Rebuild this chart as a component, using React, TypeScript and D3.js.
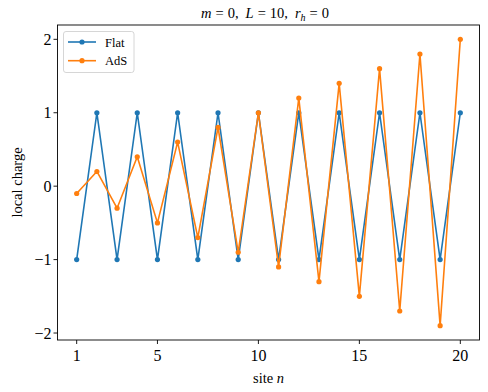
import React from 'react';
import * as d3 from 'd3';

const sites = [1, 2, 3, 4, 5, 6, 7, 8, 9, 10, 11, 12, 13, 14, 15, 16, 17, 18, 19, 20];
const flat = [-1, 1, -1, 1, -1, 1, -1, 1, -1, 1, -1, 1, -1, 1, -1, 1, -1, 1, -1, 1];
const ads = [-0.1, 0.2, -0.3, 0.4, -0.5, 0.6, -0.7, 0.8, -0.9, 1.0, -1.1, 1.2, -1.3, 1.4, -1.5, 1.6, -1.7, 1.8, -1.9, 2.0];
const xTicks = [1, 5, 10, 15, 20];
const yTicks = [-2, -1, 0, 1, 2];

const series = [
  {name: 'Flat', values: flat, color: '#1f77b4'},
  {name: 'AdS', values: ads, color: '#ff7f0e'}
];

const W = 488;
const H = 392;
const margin = {left: 57.5, right: 8.5, top: 25, bottom: 52};
const font = '"Liberation Serif", "DejaVu Serif", serif';

const fmt = (v: number) => (v < 0 ? '\u2212' + Math.abs(v) : String(v));

export default function App() {
  // matplotlib style 5% padding on both axes
  const xPad = (d3.max(sites)! - d3.min(sites)!) * 0.05;
  const x = d3.scaleLinear()
    .domain([d3.min(sites)! - xPad, d3.max(sites)! + xPad])
    .range([margin.left, W - margin.right]);

  const allY = flat.concat(ads);
  const yPad = (d3.max(allY)! - d3.min(allY)!) * 0.05;
  const y = d3.scaleLinear()
    .domain([d3.min(allY)! - yPad, d3.max(allY)! + yPad])
    .range([H - margin.bottom, margin.top]);

  const line = d3.line<number>()
    .x((d, i) => x(sites[i]))
    .y(d => y(d));

  const plotBottom = H - margin.bottom;

  return (
    <svg width={W} height={H} style={{position: 'absolute', left: 0, top: 0}}
      fontFamily={font}>
      <rect width={W} height={H} fill="#fff" />
      <text x={201} y={18} fontSize={14.5}>
        <tspan fontStyle="italic">m</tspan>
        <tspan dx={4}>=</tspan>
        <tspan dx={4}>0,</tspan>
        <tspan dx={7}  fontStyle="italic">L</tspan>
        <tspan dx={4}>=</tspan>
        <tspan dx={4}>10,</tspan>
        <tspan dx={7} fontStyle="italic">r</tspan>
        <tspan fontStyle="italic" fontSize={10} dy={2.5}>h</tspan>
        <tspan dy={-2.5} dx={4}>=</tspan>
        <tspan dx={4}>0</tspan>
      </text>

      {series.map(s => (
        <g key={s.name}>
          <path d={line(s.values)!} fill="none" stroke={s.color} strokeWidth={1.6}
            strokeLinejoin="round" />
          {s.values.map((v, i) => (
            <circle key={i} cx={x(sites[i])} cy={y(v)} r={2.6} fill={s.color} />
          ))}
        </g>
      ))}

      <rect x={margin.left} y={margin.top} width={W - margin.right - margin.left}
        height={plotBottom - margin.top} fill="none" stroke="#000" strokeWidth={0.9} />

      {xTicks.map(t => (
        <g key={t}>
          <line x1={x(t)} x2={x(t)} y1={plotBottom} y2={plotBottom + 4} stroke="#000" strokeWidth={0.9} />
          <text x={x(t)} y={plotBottom + 20.5} textAnchor="middle" fontSize={16}>{fmt(t)}</text>
        </g>
      ))}
      {yTicks.map(t => (
        <g key={t}>
          <line x1={margin.left - 4} x2={margin.left} y1={y(t)} y2={y(t)} stroke="#000" strokeWidth={0.9} />
          <text x={margin.left - 6} y={y(t) + 5.5} textAnchor="end" fontSize={16}>{fmt(t)}</text>
        </g>
      ))}

      <text x={(margin.left + W - margin.right) / 2} y={H - 9} textAnchor="middle" fontSize={14.5}>
        site <tspan fontStyle="italic">n</tspan>
      </text>
      <text transform={`translate(22,${(margin.top + plotBottom) / 2}) rotate(-90)`}
        textAnchor="middle" fontSize={14.5}>local charge</text>

      <g>
        <rect x={63.5} y={31.5} width={70.5} height={41} rx={2.5} fill="#fff" fillOpacity={0.8}
          stroke="#ccc" strokeWidth={0.8} />
        {series.map((s, i) => (
          <g key={s.name}>
            <line x1={68} x2={96} y1={42 + i * 18.7} y2={42 + i * 18.7} stroke={s.color} strokeWidth={1.6} />
            <circle cx={82} cy={42 + i * 18.7} r={2.6} fill={s.color} />
            <text x={105} y={46.5 + i * 18.7} fontSize={12.5}>{s.name}</text>
          </g>
        ))}
      </g>
    </svg>
  );
}
